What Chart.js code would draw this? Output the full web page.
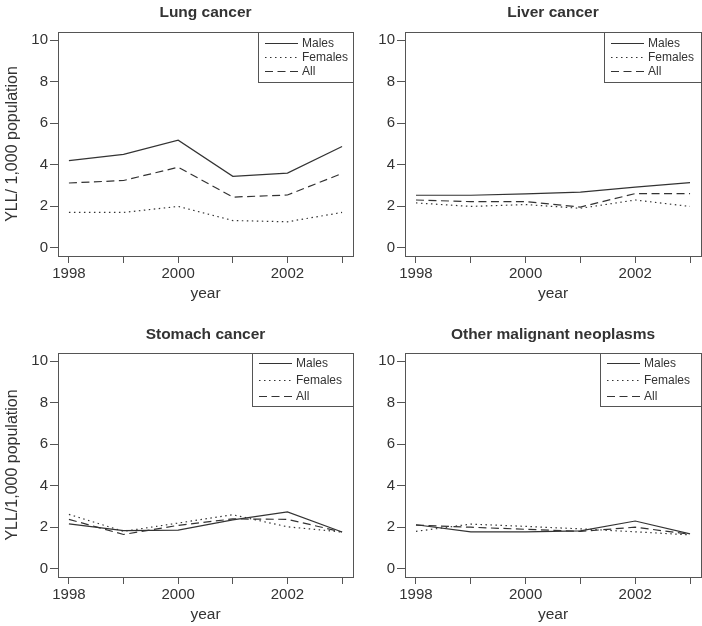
<!DOCTYPE html>
<html>
<head>
<meta charset="utf-8">
<script src="https://cdn.jsdelivr.net/npm/chart.js@4.4.0/dist/chart.umd.min.js"></script>
<style>
  body { margin: 0; background: #fff; }
  #wrap { position: relative; width: 702px; height: 626px; }
  canvas { position: absolute; }
</style>
</head>
<body>
<div id="wrap">
  <canvas id="lung" width="358" height="305" style="left:0;top:0"></canvas>
  <canvas id="liver" width="355" height="305" style="left:347px;top:0"></canvas>
  <canvas id="stomach" width="358" height="316" style="left:0;top:310px"></canvas>
  <canvas id="other" width="355" height="316" style="left:347px;top:310px"></canvas>
</div>
<script>
const years = [1998, 1999, 2000, 2001, 2002, 2003]
const yTicks = [0, 2, 4, 6, 8, 10]
const seriesNames = ['Males', 'Females', 'All']

const lungMales = [4.2, 4.5, 5.18, 3.44, 3.6, 4.88]
const lungFemales = [1.7, 1.7, 1.99, 1.31, 1.25, 1.7]
const lungAll = [3.12, 3.24, 3.88, 2.44, 2.54, 3.58]

const liverMales = [2.53, 2.53, 2.6, 2.68, 2.92, 3.14]
const liverFemales = [2.16, 1.99, 2.08, 1.9, 2.3, 1.99]
const liverAll = [2.3, 2.22, 2.22, 1.96, 2.61, 2.61]

const stomachMales = [2.16, 1.84, 1.86, 2.35, 2.74, 1.77]
const stomachFemales = [2.62, 1.8, 2.2, 2.6, 2.02, 1.77]
const stomachAll = [2.38, 1.65, 2.09, 2.4, 2.38, 1.77]

const otherMales = [2.12, 1.78, 1.78, 1.82, 2.3, 1.68]
const otherFemales = [1.8, 2.15, 2.04, 1.92, 1.78, 1.63]
const otherAll = [2.1, 2.0, 1.9, 1.8, 2.0, 1.66]

const font = "'Liberation Sans', Arial, Helvetica, sans-serif"
const ink = '#333'
const lineColor = '#333'
const dashes = [[], [1.5, 3.5], [8, 4.5]]

// box round the plot + legend in the top right corner, like base R
const boxLegend = {
  id: 'boxLegend',
  afterDatasetsDraw(chart, args, opts) {
    const ctx = chart.ctx
    const a = chart.chartArea
    const lx = a.right - opts.width
    ctx.save()
    ctx.fillStyle = '#fff'
    ctx.fillRect(lx, a.top, opts.width, opts.height)
    ctx.strokeStyle = '#555'
    ctx.lineWidth = 1
    ctx.strokeRect(Math.round(lx) + 0.5, Math.round(a.top) + 0.5, opts.width, opts.height)
    ctx.font = '12px ' + font
    ctx.textBaseline = 'middle'
    chart.data.datasets.forEach((ds, i) => {
      const y = Math.round(a.top + opts.first + i * opts.row) + 0.5
      ctx.strokeStyle = lineColor
      ctx.lineWidth = 1.2
      ctx.setLineDash(ds.borderDash)
      ctx.beginPath()
      ctx.moveTo(lx + 7, y)
      ctx.lineTo(lx + 40, y)
      ctx.stroke()
      ctx.setLineDash([])
      ctx.fillStyle = ink
      ctx.fillText(ds.label, lx + 44, y)
    })
    ctx.strokeStyle = '#555'
    ctx.lineWidth = 1
    ctx.strokeRect(Math.round(a.left) + 0.5, Math.round(a.top) + 0.5, Math.round(a.right - a.left), Math.round(a.bottom - a.top))
    ctx.restore()
  }
}

function makeChart(id, title, yTitle, series, top, titleY, legend) {
  const canvas = document.getElementById(id)
  const datasets = series.map((vals, i) => ({
    label: seriesNames[i],
    data: years.map((x, j) => ({x: x, y: vals[j]})),
    borderColor: lineColor,
    borderWidth: 1.2,
    borderDash: dashes[i],
    pointRadius: 0,
    tension: 0,
    fill: false
  }))

  new Chart(canvas, {
    type: 'line',
    data: {datasets: datasets},
    plugins: [boxLegend],
    options: {
      responsive: false,
      animation: false,
      devicePixelRatio: 1,
      layout: {padding: {left: 0, right: canvas.width - (id == 'lung' || id == 'stomach' ? 353 : 354), top: 0, bottom: 0}},
      plugins: {
        legend: {display: false},
        tooltip: {enabled: false},
        title: {
          display: true,
          text: title,
          fullSize: false,
          color: ink,
          font: {family: font, size: 15.5, weight: 'bold', lineHeight: 1.2},
          padding: {top: titleY - 9.3, bottom: top - titleY - 9.3}
        },
        boxLegend: legend
      },
      scales: {
        x: {
          type: 'linear',
          min: 1997.8,
          max: 2003.2,
          afterBuildTicks: axis => { axis.ticks = years.map(v => ({value: v})) },
          afterFit: scale => { scale.height = canvas.height - 256 - (top - 32) },
          grid: {drawOnChartArea: false, tickLength: 7, color: '#555'},
          border: {display: false},
          ticks: {
            autoSkip: false,
            maxRotation: 0,
            padding: 2,
            color: ink,
            font: {family: font, size: 15},
            callback: v => (v % 2 == 0 ? String(v) : '')
          },
          title: {display: true, text: 'year', color: ink, font: {family: font, size: 15.5}, padding: {top: 0, bottom: 2}}
        },
        y: {
          min: -0.4,
          max: 10.4,
          afterBuildTicks: axis => { axis.ticks = yTicks.map(v => ({value: v})) },
          afterFit: scale => { scale.width = 58 },
          grid: {drawOnChartArea: false, tickLength: 8, color: '#555'},
          border: {display: false},
          ticks: {padding: 2, color: ink, font: {family: font, size: 15}},
          title: {display: yTitle != '', text: yTitle, color: ink, font: {family: font, size: 16}, padding: {top: 2.5, bottom: 0}}
        }
      }
    }
  })
}

makeChart('lung', 'Lung cancer', 'YLL/ 1,000 population', [lungMales, lungFemales, lungAll], 32, 12.5,
  {width: 95, height: 50, first: 11, row: 14})
makeChart('liver', 'Liver cancer', '', [liverMales, liverFemales, liverAll], 32, 12.5,
  {width: 97, height: 50, first: 11, row: 14})
makeChart('stomach', 'Stomach cancer', 'YLL/1,000 population', [stomachMales, stomachFemales, stomachAll], 43, 24.5,
  {width: 101, height: 53, first: 10, row: 16.5})
makeChart('other', 'Other malignant neoplasms', '', [otherMales, otherFemales, otherAll], 43, 24.5,
  {width: 101, height: 53, first: 10, row: 16.5})
</script>
</body>
</html>
